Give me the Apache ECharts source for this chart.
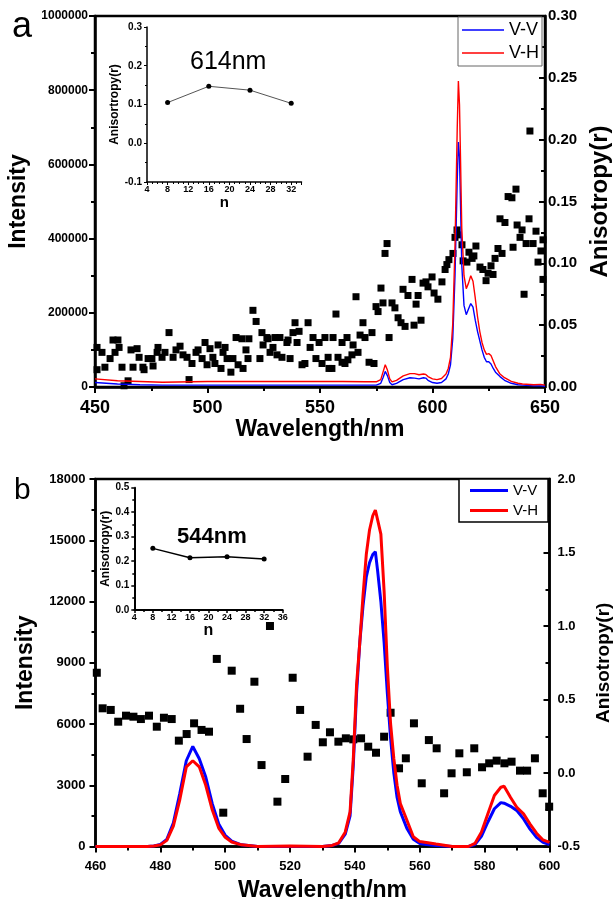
<!DOCTYPE html>
<html><head><meta charset="utf-8">
<script src="https://cdn.jsdelivr.net/npm/echarts@6/dist/echarts.min.js"></script>
<style>html,body{margin:0;padding:0;background:#fff;overflow:hidden}#c{width:613px;height:899px}</style>
</head><body><div id="c"></div>
<script>
// ---------- Panel a data ----------
const topTicksX = [450, 500, 550, 600, 650];
const topTicksLeft = [0, 200000, 400000, 600000, 800000, 1000000];
const topTicksRight = [0.00, 0.05, 0.10, 0.15, 0.20, 0.25, 0.30];
const topWl = [450,460,470,480,500,520,540,560,570,575,577,578,579,580,581,582,584,587,590,592,594,596,597,598,600,602,604,606,607,608,609,610,611,611.5,612,612.5,613,614,615,616,617,618,619,620,621,622,623,624,625,626,627,628,630,632,635,638,640,645,648,650];
const topVV = [12000,8000,6000,5000,5000,5000,5000,5000,5000,5000,10000,25000,42000,30000,12000,6000,10000,20000,25000,24000,22000,25000,24000,18000,12000,10000,12000,22000,35000,60000,130000,300000,560000,660000,620000,480000,330000,220000,195000,210000,225000,215000,180000,150000,125000,100000,80000,68000,68000,62000,50000,40000,28000,18000,10000,6000,5000,3000,3000,2000];
const topVH = [22000,17000,15000,13000,15000,15000,15000,15000,14000,14000,20000,40000,60000,45000,22000,14000,18000,30000,36000,36000,33000,35000,34000,28000,22000,20000,23000,35000,50000,80000,170000,380000,700000,825000,760000,600000,430000,300000,265000,280000,300000,285000,240000,190000,150000,120000,100000,88000,90000,85000,70000,55000,35000,25000,15000,10000,8000,6000,7000,5000];
const topAnisoWl = [450.9,450.9,453.1,454.4,456.7,458.0,460.2,458.9,460.7,462.0,462.9,464.7,466.0,466.9,468.7,469.6,471.3,471.8,473.6,475.3,475.8,477.6,478.0,479.8,481.1,482.9,484.7,486.0,487.8,489.1,490.9,491.8,493.1,494.9,495.8,497.6,498.9,499.8,501.1,502.4,503.3,504.7,506.0,506.9,507.8,508.7,510.4,511.3,512.7,513.6,515.3,515.8,517.1,518.0,518.4,520.2,521.6,523.3,524.2,524.7,526.4,526.9,527.8,529.1,530.0,530.9,532.2,533.1,535.3,535.8,536.7,538.0,538.9,539.8,540.7,542.0,543.3,544.7,545.6,546.9,548.2,549.6,550.9,552.2,554.0,553.6,555.3,555.8,557.1,558.0,559.8,559.8,561.1,562.0,562.4,564.2,564.7,566.0,566.9,567.8,569.1,570.0,571.8,573.1,574.0,574.9,575.8,577.1,578.0,578.9,579.8,580.7,582.0,583.3,584.7,586.0,586.9,587.8,589.1,590.9,591.8,592.7,593.6,594.9,595.8,597.1,598.0,599.8,600.7,602.4,604.2,605.6,606.4,607.3,609.1,610.0,610.9,611.3,613.1,613.6,615.3,616.2,617.6,618.4,619.3,621.1,622.4,623.8,624.7,626.0,626.9,627.8,629.1,630.9,630.0,632.2,633.6,635.3,635.8,637.1,637.6,638.9,639.8,640.7,641.6,642.9,643.3,644.7,646.0,646.9,648.2,649.1,649.1];
const topAnisoR = [0.032,0.014,0.028,0.016,0.023,0.038,0.038,0.028,0.032,0.016,0.001,0.005,0.030,0.016,0.031,0.024,0.016,0.014,0.023,0.023,0.017,0.028,0.032,0.024,0.028,0.044,0.024,0.030,0.033,0.026,0.024,0.006,0.019,0.028,0.030,0.023,0.036,0.018,0.031,0.024,0.019,0.034,0.015,0.028,0.032,0.023,0.012,0.023,0.040,0.018,0.039,0.015,0.030,0.023,0.039,0.062,0.053,0.023,0.044,0.034,0.040,0.039,0.028,0.032,0.040,0.026,0.040,0.024,0.036,0.038,0.023,0.044,0.052,0.036,0.045,0.018,0.019,0.052,0.032,0.040,0.023,0.036,0.019,0.040,0.015,0.024,0.015,0.040,0.059,0.024,0.036,0.020,0.019,0.040,0.022,0.026,0.034,0.073,0.028,0.042,0.052,0.040,0.020,0.044,0.019,0.065,0.061,0.080,0.068,0.108,0.116,0.040,0.068,0.064,0.056,0.052,0.079,0.049,0.074,0.087,0.050,0.067,0.074,0.054,0.084,0.085,0.081,0.089,0.076,0.071,0.085,0.095,0.099,0.103,0.108,0.121,0.127,0.123,0.115,0.102,0.101,0.109,0.104,0.106,0.114,0.097,0.095,0.086,0.092,0.098,0.091,0.104,0.112,0.108,0.136,0.133,0.154,0.153,0.113,0.160,0.131,0.121,0.127,0.075,0.116,0.136,0.207,0.116,0.126,0.101,0.110,0.119,0.087];
const topInsetN = [8, 16, 24, 32];
const topInsetR = [0.105, 0.147, 0.137, 0.103];
const topInsetTicksX = [4, 8, 12, 16, 20, 24, 28, 32];
const topInsetTicksY = [-0.1, 0.0, 0.1, 0.2, 0.3];

// ---------- Panel b data ----------
const botTicksX = [460, 480, 500, 520, 540, 560, 580, 600];
const botTicksLeft = [0, 3000, 6000, 9000, 12000, 15000, 18000];
const botTicksRight = [-0.5, 0.0, 0.5, 1.0, 1.5, 2.0];
const botWl = [460,470,476,478,480,482,484,486,488,490,492,494,496,498,500,502,505,510,520,530,533,535,537,538.5,539.5,540.5,541.5,542.5,543.5,544.5,545.5,546.3,547,548,549,550,551,552,553,554,556,558,560,562,565,570,575,577,579,581,583,585,586,588,590,592,594,596,598,600];
const botVV = [0,0,0,30,100,350,1150,2600,4200,4900,4300,3400,2100,1100,550,260,80,0,0,0,50,150,600,1500,4000,7500,10000,11800,13200,13900,14300,14440,13500,12000,10000,7500,5300,3600,2400,1700,900,350,150,100,50,0,0,100,500,1200,1850,2150,2120,1970,1750,1350,850,450,200,100];
const botVH = [0,0,0,20,80,300,1000,2300,3900,4200,3900,3000,1800,900,450,220,80,0,30,0,50,180,700,1700,4300,7900,10000,12300,14300,15500,16200,16480,16000,15300,12500,8800,6000,4300,3000,2100,1300,480,240,200,120,0,0,150,700,1600,2500,2900,2950,2400,1900,1600,1100,650,320,200];
const botAnisoWl = [460.4,462.2,464.7,467.0,469.4,471.7,474.0,476.5,478.9,481.1,483.5,485.7,488.1,490.4,492.7,495.0,497.4,499.4,502.0,504.6,506.6,509.0,511.2,513.8,516.1,518.5,520.8,523.1,525.4,527.9,530.1,532.3,534.9,537.2,539.5,541.9,544.1,546.5,549.0,551.0,553.6,555.7,558.2,560.6,562.8,565.2,567.5,569.8,572.2,574.5,576.8,579.2,581.4,583.7,586.1,588.3,590.9,593.1,595.5,597.9,599.9];
const botAnisoR = [0.682,0.440,0.429,0.349,0.390,0.383,0.367,0.390,0.315,0.376,0.367,0.220,0.265,0.338,0.293,0.281,0.776,-0.270,0.696,0.437,0.231,0.621,0.054,1.000,-0.195,-0.041,0.648,0.429,0.111,0.327,0.209,0.277,0.213,0.236,0.229,0.236,0.179,0.138,0.247,0.410,0.032,0.100,0.338,-0.070,0.224,0.168,-0.138,-0.002,0.134,0.005,0.168,0.039,0.066,0.084,0.066,0.077,0.016,0.016,0.100,-0.138,-0.229];
const botInsetN = [8, 16, 24, 32];
const botInsetR = [0.252, 0.214, 0.218, 0.209];
const botInsetTicksX = [4, 8, 12, 16, 20, 24, 28, 32, 36];
const botInsetTicksY = [0.0, 0.1, 0.2, 0.3, 0.4, 0.5];

// ---------- helpers ----------
const FF = '"Liberation Sans", Arial, sans-serif';
const zip = (a, b) => a.map((v, i) => [v, b[i]]);
const rng = t => ({min: t[0], max: t[t.length - 1], interval: +(t[1] - t[0]).toFixed(6)});
function axis(o) {
  const lw = o.lw || 2.5;
  return Object.assign({
    type: 'value', gridIndex: o.grid, position: o.pos, show: true,
    axisLine: {show: true, onZero: false, lineStyle: {color: '#000', width: lw}},
    axisTick: {show: true, inside: !!o.inside, length: o.tl || 6, lineStyle: {color: '#000', width: o.tw || 2}},
    minorTick: {show: true, splitNumber: o.minor || 2, length: o.ml || 4, lineStyle: {color: '#000', width: o.tw || 2}},
    splitLine: {show: false},
    axisLabel: {fontFamily: FF, fontWeight: 'bold', fontSize: o.fs, color: '#000', margin: o.margin,
      formatter: o.fmt || (v => String(v)), showMaxLabel: o.showMax !== false},
    name: o.name || '', nameLocation: 'middle', nameGap: o.gap || 0,
    nameTextStyle: {fontFamily: FF, fontWeight: 'bold', fontSize: o.nfs || 12, color: '#000'}
  }, rng(o.ticks), o.extra || {});
}
const G = {containLabel: false, outerBoundsMode: 'none'};

const chart = echarts.init(document.getElementById('c'), null, {renderer: 'canvas'});
const option = {
  animation: false,
  backgroundColor: '#fff',
  grid: [
    Object.assign({left: 95, top: 16, width: 450, height: 371, show: true, borderColor: '#000', borderWidth: 2.5}, G),
    Object.assign({left: 147, top: 27, width: 154.5, height: 155}, G),
    Object.assign({left: 95.5, top: 479, width: 454, height: 367.5, show: true, borderColor: '#000', borderWidth: 2.5}, G),
    Object.assign({left: 134.3, top: 487.7, width: 148.4, height: 122.3}, G)
  ],
  xAxis: [
    axis({grid: 0, pos: 'bottom', ticks: topTicksX, fs: 18, margin: 12, name: 'Wavelength/nm', nfs: 23, gap: 27}),
    axis({grid: 1, pos: 'bottom', ticks: topInsetTicksX, fs: 9, margin: 3, lw: 1.5, tw: 1, tl: 3, ml: 2, minor: 4,
      name: 'n', nfs: 15, gap: 10, showMax: false, extra: {max: 34}}),
    axis({grid: 2, pos: 'bottom', ticks: botTicksX, fs: 13, margin: 13, name: 'Wavelength/nm', nfs: 23, gap: 33}),
    axis({grid: 3, pos: 'bottom', ticks: botInsetTicksX, fs: 9, margin: 3, lw: 2, tw: 1.5, tl: 3, ml: 2,
      name: 'n', nfs: 16, gap: 7})
  ],
  yAxis: [
    axis({grid: 0, pos: 'left', ticks: topTicksLeft, fs: 12, margin: 7, name: 'Intensity', nfs: 23, gap: 50}),
    axis({grid: 0, pos: 'right', ticks: topTicksRight, fs: 15, margin: 3, inside: true, fmt: v => v.toFixed(2),
      name: 'Anisotropy(r)', nfs: 24, gap: 42}),
    axis({grid: 1, pos: 'left', ticks: topInsetTicksY, fs: 10, margin: 5, lw: 1.5, tw: 1, tl: 3, ml: 2, fmt: v => v.toFixed(1),
      name: 'Anisortropy(r)', nfs: 12, gap: 18}),
    axis({grid: 2, pos: 'left', ticks: botTicksLeft, fs: 13, margin: 10, name: 'Intensity', nfs: 23, gap: 58}),
    axis({grid: 2, pos: 'right', ticks: botTicksRight, fs: 13, margin: 8, inside: true, fmt: v => v.toFixed(1),
      name: 'Anisotropy(r)', nfs: 19, gap: 45}),
    axis({grid: 3, pos: 'left', ticks: botInsetTicksY, fs: 10, margin: 5, lw: 2, tw: 1.5, tl: 3, ml: 2, fmt: v => v.toFixed(1),
      name: 'Anisotropy(r)', nfs: 12, gap: 20})
  ],
  legend: [
    {left: 458, top: 17, orient: 'vertical', data: ['V-V', 'V-H'], icon: 'rect', itemWidth: 42, itemHeight: 1.5, itemGap: 5,
      padding: [4, 3, 4, 4], borderColor: '#666', borderWidth: 1, backgroundColor: '#fff', selectedMode: false,
      textStyle: {fontFamily: FF, fontSize: 18, color: '#000'}},
    {left: 459, top: 479, orient: 'vertical', data: ['V-V', 'V-H'], icon: 'rect', itemWidth: 38, itemHeight: 3, itemGap: 5,
      padding: [4, 10, 4, 11], borderColor: '#000', borderWidth: 1.5, backgroundColor: '#fff', selectedMode: false,
      textStyle: {fontFamily: FF, fontSize: 15, color: '#000'}}
  ],
  graphic: [
    {type: 'text', left: 12, top: 9, style: {text: 'a', font: '36px ' + FF, fill: '#000'}},
    {type: 'text', left: 14, top: 476, style: {text: 'b', font: '30px ' + FF, fill: '#000'}},
    {type: 'text', left: 190, top: 50, style: {text: '614nm', font: '25px ' + FF, fill: '#000'}},
    {type: 'text', left: 177, top: 526, style: {text: '544nm', font: 'bold 22px ' + FF, fill: '#000'}}
  ],
  series: [
    {type: 'scatter', xAxisIndex: 0, yAxisIndex: 1, data: zip(topAnisoWl, topAnisoR), symbol: 'rect', symbolSize: 7,
      itemStyle: {color: '#000', opacity: 1}, z: 2},
    {name: 'V-V', type: 'line', xAxisIndex: 0, yAxisIndex: 0, data: zip(topWl, topVV), showSymbol: false,
      lineStyle: {color: '#0000ff', width: 1.4}, itemStyle: {color: '#0000ff'}, z: 3},
    {name: 'V-H', type: 'line', xAxisIndex: 0, yAxisIndex: 0, data: zip(topWl, topVH), showSymbol: false,
      lineStyle: {color: '#ff0000', width: 1.4}, itemStyle: {color: '#ff0000'}, z: 4},
    {type: 'line', xAxisIndex: 1, yAxisIndex: 2, data: zip(topInsetN, topInsetR), symbol: 'circle', symbolSize: 5,
      lineStyle: {color: '#555', width: 1}, itemStyle: {color: '#000'}},
    {type: 'scatter', xAxisIndex: 2, yAxisIndex: 4, data: zip(botAnisoWl, botAnisoR), symbol: 'rect', symbolSize: 8,
      itemStyle: {color: '#000', opacity: 1}, z: 2},
    {name: 'V-V', type: 'line', xAxisIndex: 2, yAxisIndex: 3, data: zip(botWl, botVV), showSymbol: false,
      lineStyle: {color: '#0000ff', width: 3}, itemStyle: {color: '#0000ff'}, z: 3},
    {name: 'V-H', type: 'line', xAxisIndex: 2, yAxisIndex: 3, data: zip(botWl, botVH), showSymbol: false,
      lineStyle: {color: '#ff0000', width: 3}, itemStyle: {color: '#ff0000'}, z: 4},
    {type: 'line', xAxisIndex: 3, yAxisIndex: 5, data: zip(botInsetN, botInsetR), symbol: 'circle', symbolSize: 5,
      lineStyle: {color: '#000', width: 1.5}, itemStyle: {color: '#000'}}
  ]
};
chart.setOption(option);
</script></body></html>
